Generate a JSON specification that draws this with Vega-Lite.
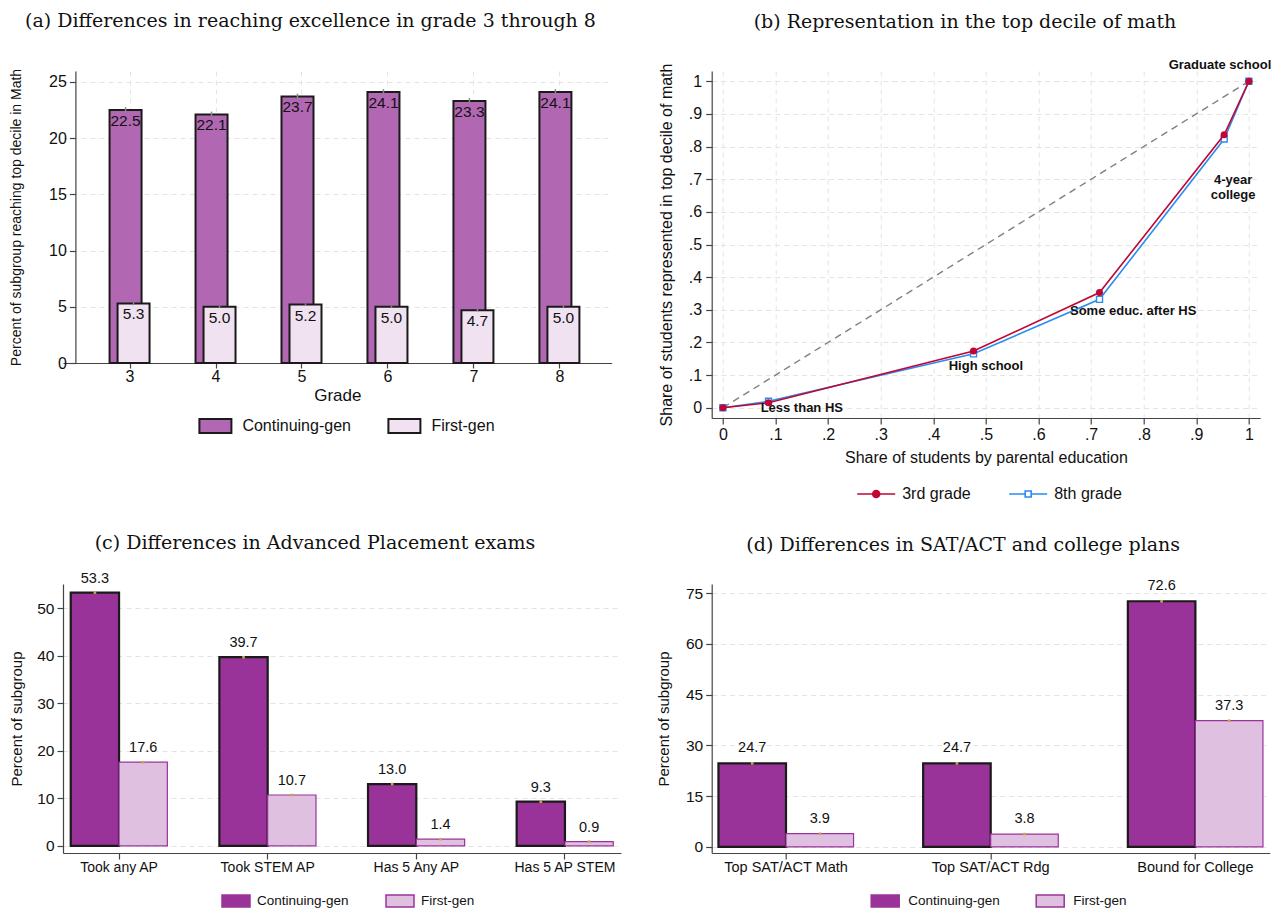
{
  "$schema": "https://vega.github.io/schema/vega-lite/v6.json",
  "background": "white",
  "padding": {"left": 9, "top": 12, "right": 0, "bottom": 0},
  "config": {
    "font": "Liberation Sans",
    "view": {"stroke": null},
    "axis": {"domainColor": "#444", "tickColor": "#444", "labelColor": "#111", "titleColor": "#111", "titleFontWeight": "normal", "gridColor": "#e4e4e4", "gridDash": [5, 4], "labelFont": "Liberation Sans", "titleFont": "Liberation Sans", "domainWidth": 1.2, "tickWidth": 1.2},
    "title": {"font": "DejaVu Serif", "fontWeight": "normal", "fontSize": 19, "color": "#111", "anchor": "middle", "frame": "bounds"},
    "legend": {"labelFont": "Liberation Sans", "labelColor": "#111"}
  },
  "datasets": {
    "grades": [
      {"grade": 3, "group": "Continuing-gen", "value": 22.5, "lo": 22.25, "hi": 22.75},
      {"grade": 4, "group": "Continuing-gen", "value": 22.1, "lo": 21.85, "hi": 22.35},
      {"grade": 5, "group": "Continuing-gen", "value": 23.7, "lo": 23.45, "hi": 23.95},
      {"grade": 6, "group": "Continuing-gen", "value": 24.1, "lo": 23.85, "hi": 24.35},
      {"grade": 7, "group": "Continuing-gen", "value": 23.3, "lo": 23.05, "hi": 23.55},
      {"grade": 8, "group": "Continuing-gen", "value": 24.1, "lo": 23.85, "hi": 24.35},
      {"grade": 3, "group": "First-gen", "value": 5.3, "lo": 5.2, "hi": 5.4},
      {"grade": 4, "group": "First-gen", "value": 5.0, "lo": 4.9, "hi": 5.1},
      {"grade": 5, "group": "First-gen", "value": 5.2, "lo": 5.1, "hi": 5.3},
      {"grade": 6, "group": "First-gen", "value": 5.0, "lo": 4.9, "hi": 5.1},
      {"grade": 7, "group": "First-gen", "value": 4.7, "lo": 4.6, "hi": 4.8},
      {"grade": 8, "group": "First-gen", "value": 5.0, "lo": 4.9, "hi": 5.1}
    ],
    "curves": [
      {"series": "3rd grade", "x": 0, "y": 0},
      {"series": "3rd grade", "x": 0.0867, "y": 0.015},
      {"series": "3rd grade", "x": 0.4765, "y": 0.1735},
      {"series": "3rd grade", "x": 0.716, "y": 0.353},
      {"series": "3rd grade", "x": 0.953, "y": 0.836},
      {"series": "3rd grade", "x": 1, "y": 1},
      {"series": "8th grade", "x": 0, "y": 0},
      {"series": "8th grade", "x": 0.0867, "y": 0.0196},
      {"series": "8th grade", "x": 0.4765, "y": 0.165},
      {"series": "8th grade", "x": 0.716, "y": 0.332},
      {"series": "8th grade", "x": 0.953, "y": 0.823},
      {"series": "8th grade", "x": 1, "y": 1}
    ],
    "diag": [{"x": 0, "y": 0}, {"x": 1, "y": 1}],
    "notes": [
      {"label": "Less than HS", "x": 0.15, "y": 0.0},
      {"label": "High school", "x": 0.5, "y": 0.127},
      {"label": "Some educ. after HS", "x": 0.78, "y": 0.297},
      {"label": "4-year\ncollege", "x": 0.97, "y": 0.697},
      {"label": "Graduate school", "x": 0.945, "y": 1.05}
    ],
    "ap": [
      {"cat": "Took any AP", "group": "Continuing-gen", "value": 53.3},
      {"cat": "Took any AP", "group": "First-gen", "value": 17.6},
      {"cat": "Took STEM AP", "group": "Continuing-gen", "value": 39.7},
      {"cat": "Took STEM AP", "group": "First-gen", "value": 10.7},
      {"cat": "Has 5 Any AP", "group": "Continuing-gen", "value": 13.0},
      {"cat": "Has 5 Any AP", "group": "First-gen", "value": 1.4},
      {"cat": "Has 5 AP STEM", "group": "Continuing-gen", "value": 9.3},
      {"cat": "Has 5 AP STEM", "group": "First-gen", "value": 0.9}
    ],
    "sat": [
      {"cat": "Top SAT/ACT Math", "group": "Continuing-gen", "value": 24.7},
      {"cat": "Top SAT/ACT Math", "group": "First-gen", "value": 3.9},
      {"cat": "Top SAT/ACT Rdg", "group": "Continuing-gen", "value": 24.7},
      {"cat": "Top SAT/ACT Rdg", "group": "First-gen", "value": 3.8},
      {"cat": "Bound for College", "group": "Continuing-gen", "value": 72.6},
      {"cat": "Bound for College", "group": "First-gen", "value": 37.3}
    ]
  },
  "columns": 2,
  "spacing": {"row": 31, "column": 35.7},
  "resolve": {"scale": {"fill": "independent", "color": "independent", "xOffset": "independent"}, "legend": {"fill": "independent", "color": "independent"}},
  "concat": [
    {
      "width": 548.7,
      "height": 292,
      "title": {"text": "(a) Differences in reaching excellence in grade 3 through 8", "offset": 37},
      "data": {"name": "grades"},
      "encoding": {
        "x": {"field": "grade", "type": "quantitative", "scale": {"domain": [2.284, 8.55], "nice": false, "zero": false},
          "axis": {"values": [3, 4, 5, 6, 7, 8], "title": "Grade", "labelFontSize": 16, "titleFontSize": 17, "tickSize": 5, "labelPadding": 0, "titlePadding": 3, "grid": true}},
        "y": {"field": "value", "type": "quantitative", "scale": {"domain": [0, 25.96], "nice": false},
          "axis": {"values": [0, 5, 10, 15, 20, 25], "offset": -12.4, "title": "Percent of subgroup reaching top decile in Math", "labelFontSize": 16, "titleFontSize": 14, "tickSize": 6, "labelPadding": 3, "titleX": -59.2, "titleBaseline": "middle", "grid": true}}
      },
      "layer": [
        {
          "transform": [{"filter": "datum.group === 'Continuing-gen'"}],
          "mark": {"type": "bar", "width": 32, "xOffset": -4, "stroke": "#1a1a1a", "strokeWidth": 2},
          "encoding": {
            "y2": {"datum": 0},
            "fill": {"field": "group", "type": "nominal", "scale": {"domain": ["Continuing-gen", "First-gen"], "range": ["#b267b3", "#f0e2f0"]},
              "legend": {"orient": "none", "legendX": 143.4, "legendY": 346, "direction": "horizontal", "title": null, "symbolType": "M-2,-0.875H2V0.875H-2Z", "symbolSize": 256, "symbolStrokeColor": "#1a1a1a", "symbolStrokeWidth": 2, "symbolOpacity": 1, "labelFontSize": 16, "labelOffset": 18, "columnPadding": 33}}
          }
        },
        {
          "transform": [{"filter": "datum.group === 'Continuing-gen'"}],
          "mark": {"type": "rule", "xOffset": -4, "color": "#8a8a8a", "strokeWidth": 1.5},
          "encoding": {"y": {"field": "lo", "type": "quantitative"}, "y2": {"field": "hi"}}
        },
        {
          "transform": [{"filter": "datum.group === 'First-gen'"}],
          "mark": {"type": "bar", "width": 32, "xOffset": 4, "stroke": "#1a1a1a", "strokeWidth": 2},
          "encoding": {
            "y2": {"datum": 0},
            "fill": {"field": "group", "type": "nominal", "scale": {"domain": ["Continuing-gen", "First-gen"], "range": ["#b267b3", "#f0e2f0"]}}
          }
        },
        {
          "transform": [{"filter": "datum.group === 'First-gen'"}],
          "mark": {"type": "rule", "xOffset": 4, "color": "#8a8a8a", "strokeWidth": 1.5},
          "encoding": {"y": {"field": "lo", "type": "quantitative"}, "y2": {"field": "hi"}}
        },
        {
          "transform": [{"filter": "datum.group === 'Continuing-gen'"}],
          "mark": {"type": "text", "dx": -4, "baseline": "top", "dy": 4, "fontSize": 15.5, "color": "#111"},
          "encoding": {"text": {"field": "value", "type": "quantitative", "format": ".1f"}}
        },
        {
          "transform": [{"filter": "datum.group === 'First-gen'"}],
          "mark": {"type": "text", "dx": 4, "baseline": "top", "dy": 4, "fontSize": 15.5, "color": "#111"},
          "encoding": {"text": {"field": "value", "type": "quantitative", "format": ".1f"}}
        }
      ]
    },
    {
      "width": 548.5,
      "height": 347,
      "title": {"text": "(b) Representation in the top decile of math", "offset": 27},
      "encoding": {
        "x": {"field": "x", "type": "quantitative", "scale": {"domain": [-0.0213, 1.0215], "nice": false, "zero": false},
          "axis": {"values": [0, 0.1, 0.2, 0.3, 0.4, 0.5, 0.6, 0.7, 0.8, 0.9, 1], "labelExpr": "datum.value === 0 ? '0' : datum.value === 1 ? '1' : replace(format(datum.value, '.1f'), '0.', '.')", "title": "Share of students by parental education", "titleFontSize": 16, "labelFontSize": 16, "grid": true, "tickSize": 6, "labelPadding": 2, "titlePadding": 7}},
        "y": {"field": "y", "type": "quantitative", "scale": {"domain": [-0.0315, 1.0315], "nice": false, "zero": false},
          "axis": {"values": [0, 0.1, 0.2, 0.3, 0.4, 0.5, 0.6, 0.7, 0.8, 0.9, 1], "labelExpr": "datum.value === 0 ? '0' : datum.value === 1 ? '1' : replace(format(datum.value, '.1f'), '0.', '.')", "title": "Share of students represented in top decile of math", "titleFontSize": 16, "labelFontSize": 16, "grid": true, "tickSize": 6, "labelPadding": 4, "titleX": -45, "titleBaseline": "middle"}}
      },
      "layer": [
        {
          "data": {"name": "diag"},
          "mark": {"type": "line", "strokeDash": [7, 5], "color": "#808080", "strokeWidth": 1.4},
          "encoding": {}
        },
        {
          "data": {"name": "curves"},
          "transform": [{"filter": "datum.series === '8th grade'"}],
          "mark": {"type": "line", "strokeWidth": 1.6, "color": "#2a8cf0"},
          "encoding": {"order": {"field": "x", "type": "quantitative"}}
        },
        {
          "data": {"name": "curves"},
          "transform": [{"filter": "datum.series === '8th grade'"}],
          "mark": {"type": "point", "shape": "square", "size": 36, "fill": "white", "stroke": "#2a8cf0", "strokeWidth": 1.4, "opacity": 1, "filled": false},
          "encoding": {}
        },
        {
          "data": {"name": "curves"},
          "transform": [{"filter": "datum.series === '3rd grade'"}],
          "mark": {"type": "line", "strokeWidth": 1.6},
          "encoding": {
            "order": {"field": "x", "type": "quantitative"},
            "color": {"field": "series", "type": "nominal", "scale": {"domain": ["3rd grade", "8th grade"], "range": ["#c10534", "#2a8cf0"]},
              "legend": {"orient": "none", "legendX": 153.5, "legendY": 412, "direction": "horizontal", "title": null, "symbolSize": 400, "labelFontSize": 16, "labelOffset": 15, "columnPadding": 34,
                "encode": {"symbols": {"update": {
                  "shape": {"signal": "datum.value === '3rd grade' ? 'M-1.9,0H1.9M-0.35,0A0.35,0.35,0,1,1,0.35,0A0.35,0.35,0,1,1,-0.35,0Z' : 'M-1.9,0H-0.3M0.3,0H1.9M-0.3,-0.3H0.3V0.3H-0.3Z'"},
                  "fill": {"signal": "datum.value === '3rd grade' ? '#c10534' : 'white'"},
                  "stroke": {"signal": "datum.value === '3rd grade' ? '#c10534' : '#2a8cf0'"},
                  "strokeWidth": {"value": 1.6},
                  "opacity": {"value": 1}
                }}}}}
          }
        },
        {
          "data": {"name": "curves"},
          "transform": [{"filter": "datum.series === '3rd grade'"}],
          "mark": {"type": "point", "shape": "circle", "size": 50, "filled": true, "color": "#c10534", "opacity": 1},
          "encoding": {}
        },
        {
          "data": {"name": "notes"},
          "mark": {"type": "text", "fontSize": 13, "fontWeight": "bold", "color": "#111", "lineBreak": "\n", "baseline": "middle"},
          "encoding": {"text": {"field": "label", "type": "nominal"}}
        }
      ]
    },
    {
      "width": 558,
      "height": 269,
      "title": {"text": "(c) Differences in Advanced Placement exams", "offset": 18},
      "data": {"name": "ap"},
      "encoding": {
        "x": {"field": "cat", "type": "nominal", "sort": ["Took any AP", "Took STEM AP", "Has 5 Any AP", "Has 5 AP STEM"], "scale": {"paddingInner": 0.35, "paddingOuter": 0.052},
          "axis": {"title": null, "labelAngle": 0, "labelFontSize": 14, "tickSize": 6, "labelPadding": 1, "grid": false}},
        "xOffset": {"field": "group", "type": "nominal", "sort": ["Continuing-gen", "First-gen"], "scale": {"paddingInner": 0, "paddingOuter": 0}},
        "y": {"field": "value", "type": "quantitative", "scale": {"domain": [-1.5, 55.1], "nice": false, "zero": false},
          "axis": {"values": [0, 10, 20, 30, 40, 50], "title": "Percent of subgroup", "titleFontSize": 15, "labelFontSize": 15.5, "tickSize": 6, "labelPadding": 3, "titleX": -47, "titleBaseline": "middle", "grid": true}}
      },
      "layer": [
        {
          "mark": {"type": "bar"},
          "encoding": {
            "y2": {"datum": 0},
            "fill": {"field": "group", "type": "nominal", "scale": {"domain": ["Continuing-gen", "First-gen"], "range": ["#993399", "#e0c0e0"]},
              "legend": {"orient": "none", "legendX": 165, "legendY": 309, "direction": "horizontal", "title": null, "symbolType": "M-2,-0.857H2V0.857H-2Z", "symbolSize": 196, "symbolOpacity": 1, "labelFontSize": 13.5, "labelOffset": 13, "columnPadding": 34,
                "encode": {"symbols": {"update": {
                  "stroke": {"signal": "datum.value === 'Continuing-gen' ? '#1a1a1a' : '#993399'"},
                  "strokeWidth": {"signal": "datum.value === 'Continuing-gen' ? 2.5 : 1.3"}
                }}}}},
            "stroke": {"condition": {"test": "datum.group === 'Continuing-gen'", "value": "#1a1a1a"}, "value": "#993399"},
            "strokeWidth": {"condition": {"test": "datum.group === 'Continuing-gen'", "value": 2.2}, "value": 1.2}
          }
        },
        {
          "mark": {"type": "point", "shape": "square", "size": 7, "filled": true, "color": "#c8a848", "opacity": 1}
        },
        {
          "mark": {"type": "text", "baseline": "alphabetic", "dy": -10, "fontSize": 14.5, "color": "#111"},
          "encoding": {"text": {"field": "value", "type": "quantitative", "format": ".1f"}}
        }
      ]
    },
    {
      "width": 558,
      "height": 269,
      "title": {"text": "(d) Differences in SAT/ACT and college plans", "offset": 23},
      "data": {"name": "sat"},
      "encoding": {
        "x": {"field": "cat", "type": "nominal", "sort": ["Top SAT/ACT Math", "Top SAT/ACT Rdg", "Bound for College"], "scale": {"paddingInner": 0.34, "paddingOuter": 0.033},
          "axis": {"title": null, "labelAngle": 0, "labelFontSize": 14.5, "tickSize": 6, "labelPadding": 1, "grid": false}},
        "xOffset": {"field": "group", "type": "nominal", "sort": ["Continuing-gen", "First-gen"], "scale": {"paddingInner": 0, "paddingOuter": 0}},
        "y": {"field": "value", "type": "quantitative", "scale": {"domain": [-1.8, 77.7], "nice": false, "zero": false},
          "axis": {"values": [0, 15, 30, 45, 60, 75], "title": "Percent of subgroup", "titleFontSize": 15, "labelFontSize": 15.5, "tickSize": 6, "labelPadding": 3, "titleX": -48, "titleBaseline": "middle", "grid": true}}
      },
      "layer": [
        {
          "mark": {"type": "bar"},
          "encoding": {
            "y2": {"datum": 0},
            "fill": {"field": "group", "type": "nominal", "scale": {"domain": ["Continuing-gen", "First-gen"], "range": ["#993399", "#e0c0e0"]},
              "legend": {"orient": "none", "legendX": 165.5, "legendY": 309, "direction": "horizontal", "title": null, "symbolType": "M-2,-0.857H2V0.857H-2Z", "symbolSize": 196, "symbolOpacity": 1, "labelFontSize": 13.5, "labelOffset": 15, "columnPadding": 33,
                "encode": {"symbols": {"update": {
                  "stroke": {"signal": "datum.value === 'Continuing-gen' ? '#1a1a1a' : '#993399'"},
                  "strokeWidth": {"signal": "datum.value === 'Continuing-gen' ? 2.5 : 1.3"}
                }}}}},
            "stroke": {"condition": {"test": "datum.group === 'Continuing-gen'", "value": "#1a1a1a"}, "value": "#993399"},
            "strokeWidth": {"condition": {"test": "datum.group === 'Continuing-gen'", "value": 2.2}, "value": 1.2}
          }
        },
        {
          "mark": {"type": "point", "shape": "square", "size": 7, "filled": true, "color": "#c8a848", "opacity": 1}
        },
        {
          "mark": {"type": "text", "baseline": "alphabetic", "dy": -11, "fontSize": 14.5, "color": "#111"},
          "encoding": {"text": {"field": "value", "type": "quantitative", "format": ".1f"}}
        }
      ]
    }
  ]
}
